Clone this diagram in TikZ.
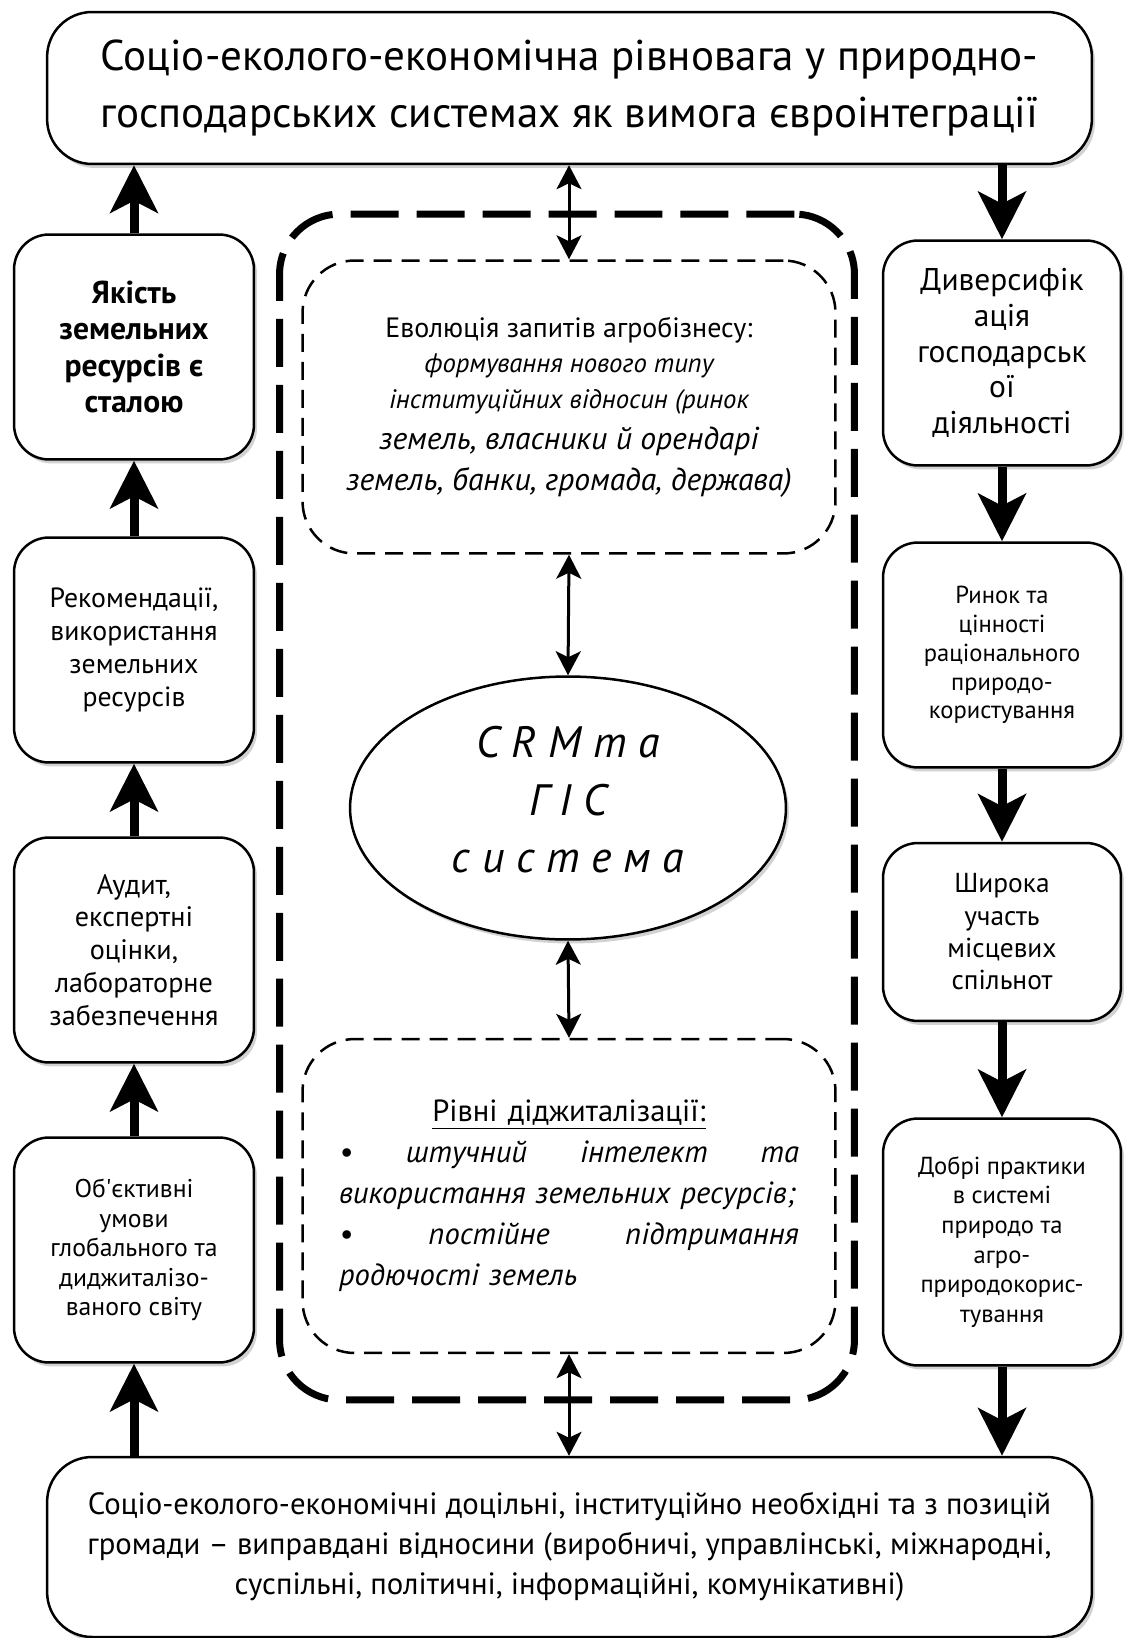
\documentclass[tikz,border=0pt]{standalone}
\usepackage{fontspec}
\setmainfont{PT Sans}
\usetikzlibrary{arrows.meta,shapes.geometric,shadows}
\newcommand\fsz[2]{\fontsize{#1}{#2}\selectfont}

\begin{document}
\begin{tikzpicture}[x=0.02cm, y=-0.02cm,
		box/.style={draw, line width=0.05cm, rounded corners=0.7cm, fill=white, align=center, inner sep=0pt,
			drop shadow={shadow xshift=0.06cm, shadow yshift=-0.08cm, opacity=0.35}},
		side/.style={box, minimum width=4.8cm, minimum height=4.5cm},
		wide/.style={box, rounded corners=0.9cm, minimum width=20.9cm},
		inner/.style={draw, line width=0.05cm, dash pattern=on 0.36cm off 0.2cm, rounded corners=1.04cm,
			minimum width=10.66cm, align=center},
		up/.style={-{Stealth[length=0.95cm, width=0.95cm, inset=0.24cm]}, line width=0.18cm},
		link/.style={{Stealth[length=0.48cm, width=0.5cm, inset=0.12cm]}-{Stealth[length=0.48cm, width=0.5cm, inset=0.12cm]}, line width=0.06cm}]

		\fill[white] (0,0) rectangle (1123,1638);
		\useasboundingbox (0,0) rectangle (1123,1638);

		\node[draw, line width=0.14cm, dash pattern=on 0.96cm off 0.36cm, rounded corners=1.2cm,
			minimum width=11.5cm, minimum height=23.72cm] at (567,807) (frame) {};

		\node[wide, minimum height=3.04cm, font=\fsz{24.5}{32.6}] at (569.5,88) (goal)
			{Соціо-еколого-економічна рівновага у природно-\\господарських системах як вимога євроінтеграції};
		\node[wide, minimum height=3.6cm, font=\fsz{17.5}{22.7}] at (569.5,1547) (rel)
			{Соціо-еколого-економічні доцільні, інституційно необхідні та з позицій\\громади – виправдані відносини (виробничі, управлінські, міжнародні,\\суспільні, політичні, інформаційні, комунікативні)};

		\node[side, font=\bfseries\fsz{18}{20.7}] at (134,347) (qual) {Якість\\земельних\\ресурсів є\\сталою};
		\node[side, font=\fsz{15.8}{18.7}] at (134,650) (recom) {Рекомендації,\\використання\\земельних\\ресурсів};
		\node[side, font=\fsz{16}{18.7}] at (134,950) (audit) {Аудит,\\експертні\\оцінки,\\лабораторне\\забезпечення};
		\node[side, font=\fsz{14.6}{16.8}] at (134,1250) (cond) {Об\textquotesingle єктивні\\умови\\глобального та\\диджиталізо-\\ваного світу};

		\node[side, minimum width=4.76cm, font=\fsz{17.9}{20.4}] at (1002,353) (divers) {Диверсифік\\ація\\господарськ\\ої\\діяльності};
		\node[side, minimum width=4.76cm, font=\fsz{14}{16.4}] at (1002,655) (market) {Ринок та\\цінності\\раціонального\\природо-\\користування};
		\node[side, minimum width=4.76cm, minimum height=3.56cm, font=\fsz{15.6}{18.4}] at (1002,932) (commun) {Широка\\участь\\місцевих\\спільнот};
		\node[side, minimum width=4.76cm, minimum height=4.94cm, font=\fsz{14}{16.9}] at (1002,1242) (pract) {Добрі практики\\в системі\\природо та\\агро-\\природокорис-\\тування};

		\node[inner, minimum height=5.86cm, font=\fsz{18}{20.4}] at (569,407) (evol)
			{{\fsz{15.9}{20.4}Еволюція запитів агробізнесу:}\\
			{\fsz{15.2}{20.4}\itshape формування нового типу}\\
			{\fsz{15.2}{20.4}\itshape інституційних відносин (ринок}\\[2.8pt]
			{\itshape земель, власники й орендарі}\\[2.8pt]
			{\itshape земель, банки, громада, держава)}};

		\node[draw, ellipse, line width=0.05cm, fill=white, minimum width=8.72cm, minimum height=5.26cm,
			drop shadow={shadow xshift=0.06cm, shadow yshift=-0.08cm, opacity=0.35},
			align=center, font=\itshape\fsz{25}{32.6}] at (568,808) (crm)
			{С\ R\ М\ т\ а\\Г\ І\ С\\с\ и\ с\ т\ е\ м\ а\\[-0.81cm]\mbox{}};

		\node[inner, minimum height=6.28cm] at (569,1196) (digit) {};
		\node[text width=9.2cm, align=left, font=\itshape\fsz{17.4}{23.3}] at (569,1196) (digtext)
			{\makebox[\linewidth]{\upshape\underline{Рівні діджиталізації:}}\\
			\textbullet\hfill штучний\hfill інтелект\hfill та\\
			використання земельних ресурсів;\\
			\textbullet\hfill постійне\hfill підтримання\\
			родючості земель};

		\draw[up] (qual.north) -- (qual.north |- goal.south);
		\draw[up] (recom.north) -- (qual.south);
		\draw[up] (audit.north) -- (recom.south);
		\draw[up] (cond.north) -- (audit.south);
		\draw[up] (rel.north -| cond.south) -- (cond.south);

		\draw[up] (goal.south -| divers.north) -- (divers.north);
		\draw[up] (divers.south) -- (market.north);
		\draw[up] (market.south) -- (commun.north);
		\draw[up] (commun.south) -- (pract.north);
		\draw[up] (pract.south) -- (pract.south |- rel.north);

		\draw[link] (goal.south -| evol.north) -- (evol.north);
		\draw[link] (evol.south) -- (crm.north);
		\draw[link] (crm.south) -- (digit.north);
		\draw[link] (digit.south) -- (digit.south |- rel.north);
	\end{tikzpicture}
\end{document}
